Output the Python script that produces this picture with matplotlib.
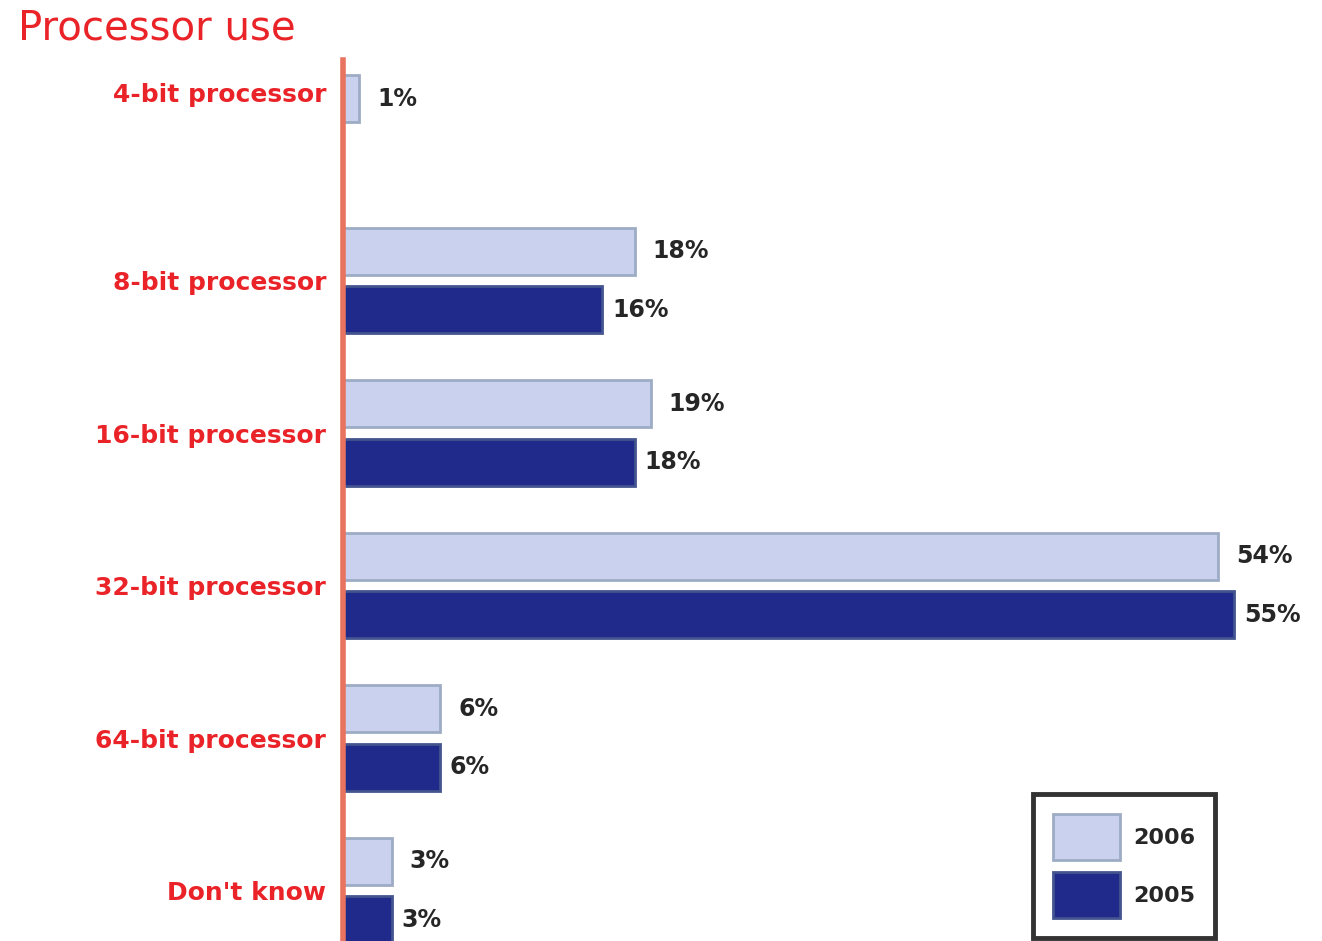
import numpy as np
import matplotlib.pyplot as plt

categories = ['4-bit processor', '8-bit processor', '16-bit processor',
              '32-bit processor', '64-bit processor', "Don't know"]
vals_2006 = [1, 18, 19, 54, 6, 3]
vals_2005 = [np.nan, 16, 18, 55, 6, 3]

c2006 = '#c9d1ee'
c2005 = '#1f2a8b'
red = '#ea2328'

fig = plt.figure(figsize=(13.22, 9.41), dpi=100)
ax = fig.add_axes([343 / 1322, 0, 1 - 343 / 1322, 1 - 60 / 941])

y = np.arange(len(categories))
off = 0.193
h = 0.308
ax.barh(y - off, vals_2006, height=h, color=c2006, edgecolor='#9eabc4',
        linewidth=2, label='2006')
ax.barh(y + off, vals_2005, height=h, color=c2005, edgecolor='#44548f',
        linewidth=2, label='2005')

for i in range(len(categories)):
    ax.text(vals_2006[i] + 1.1, y[i] - off, f'{vals_2006[i]}%', va='center',
            ha='left', fontsize=17, fontweight='bold', color='#262626')
    if not np.isnan(vals_2005[i]):
        ax.text(vals_2005[i] + 0.6, y[i] + off, f'{vals_2005[i]:.0f}%',
                va='center', ha='left', fontsize=17, fontweight='bold',
                color='#262626')

# category labels sit between the pair, or on the single bar
lab_pos = [y[i] - off - 0.04 if np.isnan(vals_2005[i]) else y[i]
           for i in range(len(categories))]
ax.set_yticks(lab_pos, categories)
for t in ax.get_yticklabels():
    t.set_color(red)
    t.set_fontweight('bold')
    t.set_fontsize(18)
ax.tick_params(axis='y', length=0, pad=12)
ax.set_xticks([])

ax.set_xlim(0, 60.4)
ax.set_ylim(5.331, -0.446)
for s in ['top', 'right', 'bottom']:
    ax.spines[s].set_visible(False)
ax.spines['left'].set_color('#e8735f')
ax.spines['left'].set_linewidth(4)

fig.text(18 / 1322, 1 - 28 / 941, 'Processor use', color=red, fontsize=29,
         ha='left', va='center', family=['Liberation Sans Narrow', 'DejaVu Sans'])

leg = ax.legend(loc='lower right', bbox_to_anchor=(1215 / 1322, 3 / 941),
                bbox_transform=fig.transFigure, borderaxespad=0,
                fontsize=16, handlelength=3.0, handleheight=2.8,
                handletextpad=0.6, labelspacing=0.55, borderpad=0.9,
                fancybox=False, framealpha=1)
leg.get_frame().set_edgecolor('#333333')
leg.get_frame().set_linewidth(3.5)
for t in leg.get_texts():
    t.set_fontweight('bold')
    t.set_color('#262626')

fig.savefig('out.png', dpi=100)
